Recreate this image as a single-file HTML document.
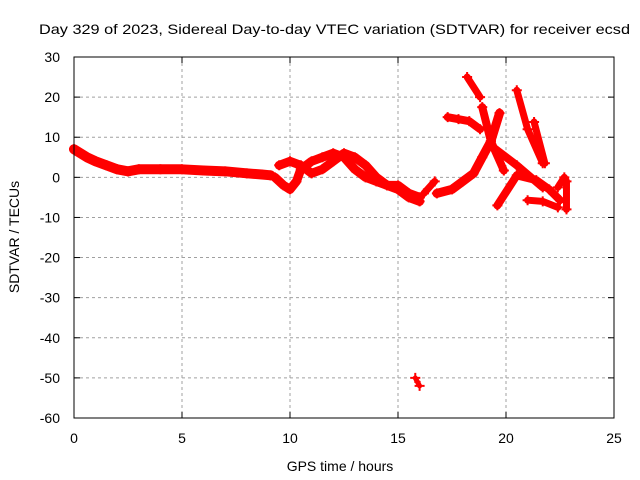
<!DOCTYPE html>
<html><head><meta charset="utf-8"><style>
body{margin:0;background:#fff}
svg{display:block;font-family:"Liberation Sans",sans-serif}
</style></head><body>
<svg id="chart" width="640" height="480" viewBox="0 0 640 480">
<text x="39" y="34" font-size="14" textLength="591" lengthAdjust="spacingAndGlyphs">Day 329 of 2023, Sidereal Day-to-day VTEC variation (SDTVAR) for receiver ecsd</text>
<g id="grid"></g>
<g id="marks"></g>
<rect x="74" y="57" width="540" height="361" fill="none" stroke="#000" stroke-width="1"/>
<g id="ticks"></g>
<text x="340" y="471" font-size="14" text-anchor="middle">GPS time / hours</text>
<text transform="translate(19,237) rotate(-90)" font-size="14" text-anchor="middle">SDTVAR / TECUs</text>
</svg>
<script>
const xTicks=[0,5,10,15,20,25];
const yTicks=[30,20,10,0,-10,-20,-30,-40,-50,-60];
const trackA_t=[0,0.3,0.6,1,1.5,2,2.5,3,4,5,6,7,8,8.7,9.1];
const trackA_v=[7,6,5,4,3,2,1.5,2,2,2,1.7,1.5,1,0.7,0.5];
const trackB_t=[9.3,9.7,10,10.3,10.5,11,11.5,12,12.5,13,13.5,14,14.5,15,15.5,16];
const trackB_v=[0,-2,-3,-1,2,4,5,6,5,2,0,-1,-2,-2,-4,-5];
const trackC_t=[9.5,10,10.5,11,11.5,12,12.5,13,13.5,14,14.5,15,15.5,16];
const trackC_v=[3,4,3,1,2,4,6,5,3,0,-2,-3,-5,-6];
const trackD_t=[16.2,16.7];
const trackD_v=[-4,-1];
const trackE_t=[16.8,17.5,18,18.5,18.9,19.3,19.7];
const trackE_v=[-4,-3,-1,1,5,9,16];
const trackF_t=[18.9,19.3,19.9];
const trackF_v=[17.5,9,1.7];
const trackG_t=[18.2,18.8];
const trackG_v=[25,20];
const trackH_t=[17.3,17.8,18.3,18.8];
const trackH_v=[15,14.5,14,12];
const trackI_t=[20.5,21,21.7];
const trackI_v=[21.7,12,3.5];
const trackJ_t=[21.3,21.8];
const trackJ_v=[13.8,3.5];
const trackK_t=[19.6,20.5,21.4,22,22.5];
const trackK_v=[-7,0.5,-0.7,-3,-5.7];
const trackL_t=[19.4,20.5,21.7];
const trackL_v=[7.5,3,-2.5];
const trackM_t=[21,21.7,22.4];
const trackM_v=[-5.7,-6,-7.5];
const trackN_t=[22.4,22.7,22.8,22.8];
const trackN_v=[-2.5,0,-1,-8];
const trackO_t=[15.8,16];
const trackO_v=[-50,-52];
const tracks=[[trackA_t,trackA_v,10],[trackB_t,trackB_v,9],[trackC_t,trackC_v,9],[trackD_t,trackD_v,7],[trackE_t,trackE_v,9],[trackF_t,trackF_v,8],[trackG_t,trackG_v,7],[trackH_t,trackH_v,8],[trackI_t,trackI_v,7],[trackJ_t,trackJ_v,7],[trackK_t,trackK_v,8],[trackL_t,trackL_v,8],[trackM_t,trackM_v,7],[trackN_t,trackN_v,7],[trackO_t,trackO_v,5]];
const NS='http://www.w3.org/2000/svg';
const X=h=>74+h*21.6;
const Y=v=>57+(30-v)*361/90;
function mk(tag,attrs,parent){const e=document.createElementNS(NS,tag);for(const k in attrs)e.setAttribute(k,attrs[k]);parent.appendChild(e);return e;}
const grid=document.getElementById('grid'),ticks=document.getElementById('ticks'),marks=document.getElementById('marks');
xTicks.forEach(t=>{
  if(t>0&&t<25){const g=mk('line',{x1:X(t),x2:X(t),y1:57,y2:418,stroke:'#a0a0a0','stroke-dasharray':'3,3'},grid);
  
  }
  mk('line',{x1:X(t),x2:X(t),y1:418,y2:412,stroke:'#000'},ticks);
  mk('line',{x1:X(t),x2:X(t),y1:57,y2:63,stroke:'#000'},ticks);
  const l=mk('text',{x:X(t),y:443,'font-size':14,'text-anchor':'middle'},ticks);l.textContent=t;
  
  
});
yTicks.forEach(t=>{
  if(t<30&&t>-60){const g=mk('line',{x1:74,x2:614,y1:Y(t),y2:Y(t),stroke:'#a0a0a0','stroke-dasharray':'3,3'},grid);
  
  }
  mk('line',{x1:74,x2:80,y1:Y(t),y2:Y(t),stroke:'#000'},ticks);
  mk('line',{x1:608,x2:614,y1:Y(t),y2:Y(t),stroke:'#000'},ticks);
  const l=mk('text',{x:60,y:Y(t)+5,'font-size':14,'text-anchor':'end'},ticks);l.textContent=t;
  
  
});
tracks.forEach(([ts,vs,w])=>{
  const p=mk('polyline',{points:ts.map((t,i)=>X(t)+','+Y(vs[i])).join(' '),fill:'none',stroke:'#ff0000','stroke-width':w,'stroke-linejoin':'round','stroke-linecap':'round'},marks);
  
  
  ts.forEach((t,i)=>{
    const m=mk('path',{d:`M${X(t)-5},${Y(vs[i])}h10M${X(t)},${Y(vs[i])-5}v10`,stroke:'#ff0000','stroke-width':2},marks);
    
    
  });
});
</script>
</body></html>
